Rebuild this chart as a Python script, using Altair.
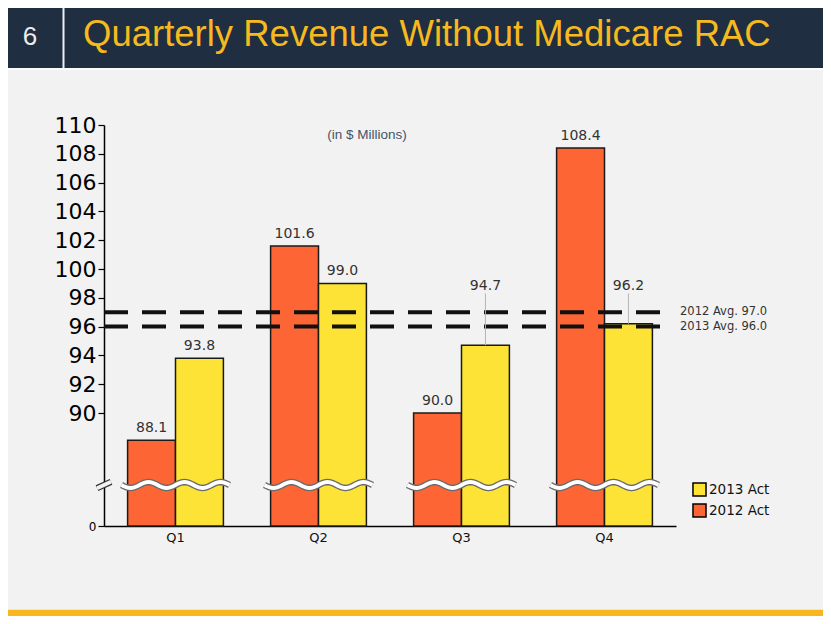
import math
import altair as alt
import pandas as pd

# ---------------- data ----------------
quarters = ["Q1", "Q2", "Q3", "Q4"]
series_names = ["2012 Act", "2013 Act"]
rev_2012 = [88.1, 101.6, 90.0, 108.4]
rev_2013 = [93.8, 99.0, 94.7, 96.2]
avg_values = [97.0, 96.0]
avg_labels = ["2012 Avg. 97.0", "2013 Avg. 96.0"]
y_tick_values = [0, 90, 92, 94, 96, 98, 100, 102, 104, 106, 108, 110]
slide_number = ["6"]
slide_title = ["Quarterly Revenue Without Medicare RAC"]
subtitle = ["(in $ Millions)"]

# ---------------- style ----------------
NAVY = "#1f2e40"
GOLD = "#f6b91e"
ORANGE = "#fd6535"
YELLOW = "#fde335"
BG = "#f2f2f2"

W, H = 572, 401
PAD = {"left": 96, "top": 117, "right": 147, "bottom": 90}
BREAK_AT = 85.0

df = pd.DataFrame({
    "quarter": quarters * 2,
    "series": [series_names[0]] * 4 + [series_names[1]] * 4,
    "value": rev_2012 + rev_2013,
})
avg_df = pd.DataFrame({"avg": avg_values, "label": avg_labels})
q_df = pd.DataFrame({"quarter": quarters})
one = pd.DataFrame({"k": [0]})

ysc = alt.Scale(domain=[0, BREAK_AT, 110], range=[H, H - 41, 0], nice=False, zero=False)
xsc = alt.Scale(domain=quarters, paddingInner=0.33, paddingOuter=0.165)
osc = alt.Scale(domain=series_names)

XAXIS = alt.Axis(
    title=None, labelAngle=0, ticks=False, domainColor="black",
    domainWidth=1.5, labelFont="DejaVu Sans", labelFontSize=13,
    labelColor="#111111", labelPadding=5)
YAXIS = alt.Axis(
    values=y_tick_values, title=None, grid=False, domainColor="black",
    domainWidth=1.5, tickColor="black", tickSize=6, tickWidth=1.2,
    labelFont="DejaVu Sans",
    labelFontSize={"condition": {"test": "datum.value < 1", "value": 12}, "value": 22},
    labelColor="black", labelPadding=2, labelFlush=False, labelOverlap=False)


def wave_path(periods=3, amp=0.055, n=60):
    pts = []
    for k in range(n + 1):
        x = -1 + 2 * k / n
        y = amp * math.sin(2 * math.pi * periods * k / n)
        pts.append(f"{x:.4f},{y:.4f}")
    return "M" + "L".join(pts)


WAVE = wave_path()
SLASH = "M-1,0.45L1,-0.45"

hi = max(avg_values)
lo = min(avg_values)
label_expr = (
    f"datum.value > {lo - 1.4} && datum.value < {hi + 0.2} ? {hi + 1.0} : datum.value"
)

# ---------------- header / footer ----------------
header = alt.Chart(one).mark_rect(color=NAVY).encode(
    x=alt.value(-PAD["left"]), x2=alt.value(W + PAD["right"]),
    y=alt.value(-PAD["top"]), y2=alt.value(-57),
)
header_line = alt.Chart(one).mark_rect(color="#fbfbfb").encode(
    x=alt.value(-PAD["left"]), x2=alt.value(W + PAD["right"]),
    y=alt.value(-57), y2=alt.value(-55),
)
sep = alt.Chart(one).mark_rule(color="#eeeeee", strokeWidth=2).encode(
    x=alt.value(-40.5), y=alt.value(-PAD["top"]), y2=alt.value(-57)
)
num = alt.Chart(pd.DataFrame({"t": slide_number})).mark_text(
    font="Liberation Sans", fontSize=26, color="#ececec", align="center",
    baseline="alphabetic",
).encode(x=alt.value(-74), y=alt.value(-80), text="t:N")
title = alt.Chart(pd.DataFrame({"t": slide_title})).mark_text(
    font="Liberation Sans", fontSize=36.5, color=GOLD, align="left",
    baseline="alphabetic",
).encode(x=alt.value(-21), y=alt.value(-79), text="t:N")
footer = alt.Chart(one).mark_rect(color="#f8b81d").encode(
    x=alt.value(-PAD["left"]), x2=alt.value(W + PAD["right"]),
    y=alt.value(H + 84), y2=alt.value(H + PAD["bottom"]),
)
footer_line = alt.Chart(one).mark_rect(color="#fbe6a8").encode(
    x=alt.value(-PAD["left"]), x2=alt.value(W + PAD["right"]),
    y=alt.value(H + 83), y2=alt.value(H + 84),
)
sub = alt.Chart(pd.DataFrame({"t": subtitle})).mark_text(
    font="Liberation Sans", fontSize=13.5, color="#44546a", align="center",
    baseline="middle",
).encode(x=alt.value(263), y=alt.value(10), text="t:N")

# ---------------- bars ----------------
bars = alt.Chart(df).mark_bar(stroke="#1a1a1a", strokeWidth=1.5).encode(
    x=alt.X("quarter:N", scale=xsc, sort=quarters, axis=XAXIS),
    xOffset=alt.XOffset("series:N", scale=osc, sort=series_names),
    y=alt.Y("value:Q", scale=ysc, axis=YAXIS),
    y2=alt.datum(0),
    color=alt.Color("series:N", scale=alt.Scale(
        domain=[series_names[1], series_names[0]], range=[YELLOW, ORANGE]),
        legend=alt.Legend(
            orient="none", legendX=588, legendY=357, title=None,
            symbolType="square", symbolSize=170, symbolStrokeColor="black",
            symbolStrokeWidth=1.5, symbolOpacity=1, labelFontSize=13.5,
            labelFont="DejaVu Sans", labelColor="#111111", rowPadding=0,
            labelOffset=2)),
)


# ---------------- breaks ----------------
def wave_layer(color, width):
    return alt.Chart(q_df).mark_point(
        shape=WAVE, size=108 * 108, filled=False, stroke=color,
        strokeWidth=width, opacity=1,
    ).encode(
        x=alt.X("quarter:N", scale=xsc, sort=quarters, axis=XAXIS),
        y=alt.datum(BREAK_AT, scale=ysc, axis=YAXIS),
    )


def slash_layer(color, width):
    return alt.Chart(one).mark_point(
        shape=SLASH, size=14 * 14, filled=False, stroke=color,
        strokeWidth=width, opacity=1,
    ).encode(x=alt.value(0), y=alt.datum(BREAK_AT, scale=ysc, axis=YAXIS))


# ---------------- averages ----------------
avg_rules = alt.Chart(avg_df).mark_rule(
    strokeDash=[24, 14], strokeWidth=4, color="#111111"
).encode(
    y=alt.Y("avg:Q", scale=ysc, axis=YAXIS),
    x=alt.value(0), x2=alt.value(562),
)
avg_text = alt.Chart(avg_df).mark_text(
    font="DejaVu Sans", fontSize=11.5, color="#333333", align="left",
    baseline="middle",
).encode(
    y=alt.Y("avg:Q", scale=ysc, axis=YAXIS), x=alt.value(576), text="label:N"
)

# ---------------- value labels ----------------
lab_base = alt.Chart(df).transform_calculate(label_y=label_expr)

leaders = lab_base.transform_filter("datum.label_y != datum.value").transform_calculate(
    lead_top="datum.label_y + 0.3"
).mark_rule(color="#b4b4b4", strokeWidth=1).encode(
    x=alt.X("quarter:N", scale=xsc, sort=quarters, axis=XAXIS),
    xOffset=alt.XOffset("series:N", scale=osc, sort=series_names),
    y=alt.Y("lead_top:Q", scale=ysc, axis=YAXIS),
    y2="value:Q",
)
labels = lab_base.mark_text(
    font="DejaVu Sans", fontSize=14, color="#333333", baseline="alphabetic", dy=-8
).encode(
    x=alt.X("quarter:N", scale=xsc, sort=quarters, axis=XAXIS),
    xOffset=alt.XOffset("series:N", scale=osc, sort=series_names),
    y=alt.Y("label_y:Q", scale=ysc, axis=YAXIS),
    text=alt.Text("value:Q", format=".1f"),
)

chart = alt.layer(
    header, header_line, sep, num, title, footer_line, footer,
    bars,
    wave_layer("#6a6a6a", 6.5), wave_layer("white", 3.8),
    slash_layer("#333333", 6.5), slash_layer(BG, 3.8),
    avg_rules, avg_text, leaders, labels, sub,
).properties(
    width=W, height=H, padding=PAD,
    autosize=alt.AutoSizeParams(type="none"),
    background=BG,
).configure_view(stroke=None)

chart.save("out.html", embed_options={"renderer": "svg", "actions": False})
